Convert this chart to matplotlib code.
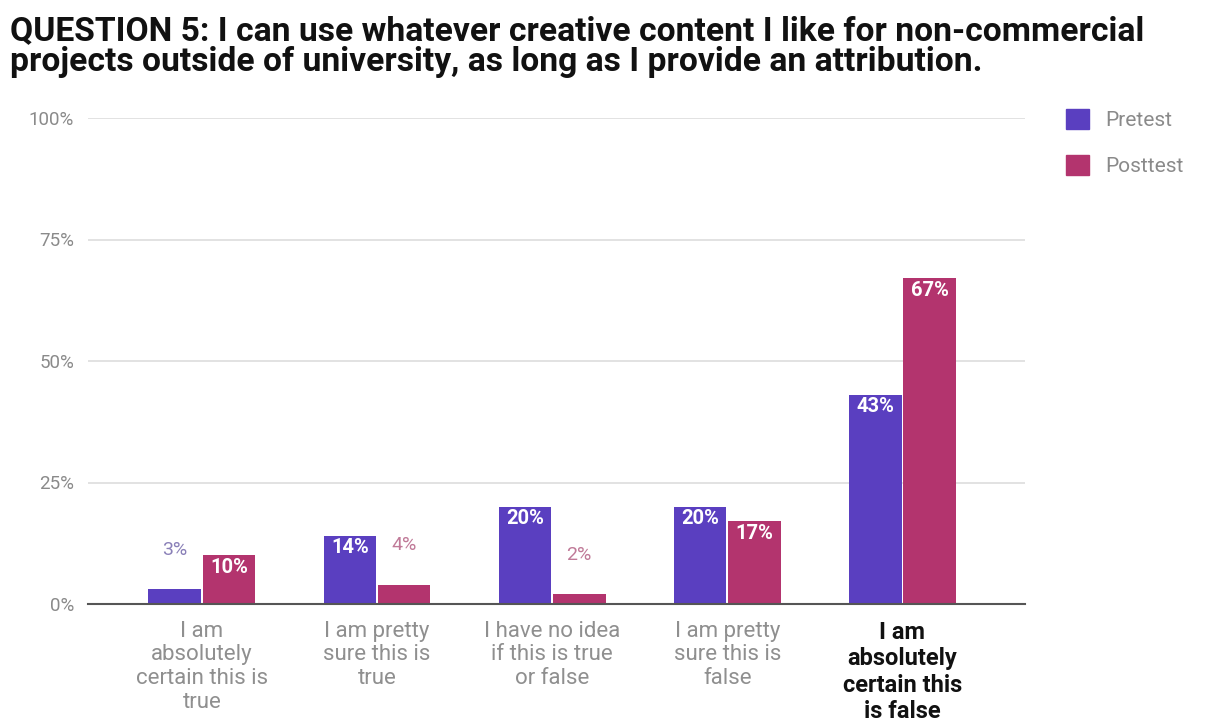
import matplotlib
matplotlib.use("Agg")
import matplotlib.pyplot as plt
import numpy as np
from matplotlib.patches import Patch

categories = ["I am\nabsolutely\ncertain this is\ntrue",
              "I am pretty\nsure this is\ntrue",
              "I have no idea\nif this is true\nor false",
              "I am pretty\nsure this is\nfalse",
              "I am\nabsolutely\ncertain this\nis false"]
pretest = [3, 14, 20, 20, 43]
posttest = [10, 4, 2, 17, 67]
series_names = ["Pretest", "Posttest"]
yticks = [0, 25, 50, 75, 100]
ytick_labels = ["0%", "25%", "50%", "75%", "100%"]
title = ("QUESTION 5: I can use whatever creative content I like for non-commercial\n"
         "projects outside of university, as long as I provide an attribution.")

c_pre = "#5a3fc0"
c_post = "#b3346e"
c_pre_lbl = "#8a80b8"
c_post_lbl = "#c07a98"

plt.rcParams['font.family'] = ['Roboto', 'DejaVu Sans']

W, H = 1205, 727
fig = plt.figure(figsize=(W / 100, H / 100), dpi=100)
ax = fig.add_axes([88 / W, 1 - 604 / H, (1025 - 88) / W, (604 - 118) / H])

x = np.arange(len(categories))
bw = 0.30
off = 0.155
b1 = ax.bar(x - off, pretest, bw, color=c_pre, zorder=3)
b2 = ax.bar(x + off, posttest, bw, color=c_post, zorder=3)

def label(bars, vals, outcol):
    for b, v in zip(bars, vals):
        cx = b.get_x() + b.get_width() / 2
        if v >= 8:
            ax.text(cx, v - 0.5, f"{v}%", ha="center", va="top", color="white",
                    fontsize=14.5, fontweight="bold", zorder=4)
        else:
            ax.text(cx, v + 6.3, f"{v}%", ha="center", va="bottom", color=outcol,
                    fontsize=14, zorder=4)

label(b1, pretest, c_pre_lbl)
label(b2, posttest, c_post_lbl)

ax.set_xlim(-0.65, 4.70)
ax.set_ylim(0, 100)
ax.set_yticks(yticks)
ax.set_yticklabels(ytick_labels, color="#8a8a8a", fontsize=13.5)
ax.yaxis.grid(True, color="#dddddd", linewidth=1.2, zorder=0)
ax.tick_params(axis="y", length=0, pad=10)
ax.tick_params(axis="x", length=0, pad=12)
for s in ["top", "right", "left"]:
    ax.spines[s].set_visible(False)
ax.spines["bottom"].set_color("#555555")
ax.spines["bottom"].set_linewidth(1.5)
ax.spines["bottom"].set_zorder(5)
ax.set_xticks(x)
ax.set_xticklabels(categories, fontsize=16, color="#8f8f8f", linespacing=1.17, va="top")
lbls = ax.get_xticklabels()
lbls[-1].set_color("#111111")
lbls[-1].set_fontweight("bold")
lbls[-1].set_fontsize(17)
lbls[-1].set_linespacing(1.2)

fig.text(10 / W, 1 - 15 / H, title, ha="left", va="top", fontsize=24.2,
         fontweight="bold", color="#111111", linespacing=0.95)

handles = [Patch(color=c_pre), Patch(color=c_post)]
fig.legend(handles, series_names, loc="upper left", bbox_to_anchor=(1047 / W, 1 - 90 / H),
           frameon=False, fontsize=15, labelcolor="#8a8a8a", handlelength=1.1,
           handleheight=1.1, labelspacing=1.2, handletextpad=0.8)

fig.savefig("out.png", dpi=100)
